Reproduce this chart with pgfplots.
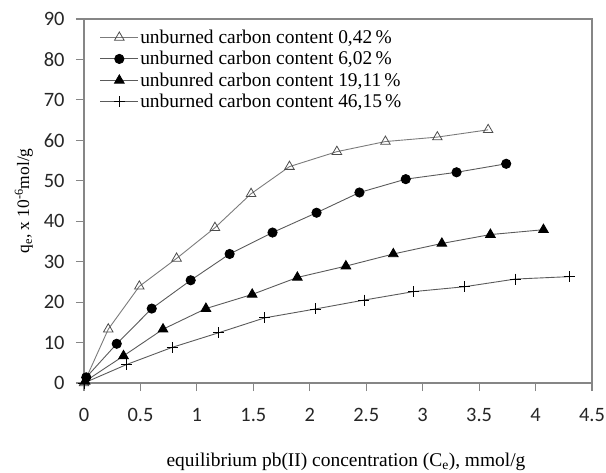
\documentclass[border=0pt]{standalone}
\usepackage{fontspec}
\setmainfont{Liberation Serif}
\newfontfamily\tickfont{Carlito}
\usepackage{pgfplots}
\pgfplotsset{compat=1.18}
\definecolor{framegray}{HTML}{868686}
\definecolor{linegray}{HTML}{5A5A5A}

\begin{document}
\begin{tikzpicture}
\begin{axis}[
  scale only axis,
  width=508bp, height=364bp,
  xmin=0, xmax=4.5, ymin=0, ymax=90,
  xtick={0,0.5,...,4.5}, ytick={0,10,...,90},
  /pgf/number format/assume math mode=true,
  ticklabel style={font=\tickfont\fontsize{20.5}{20.5}\selectfont, text=black!85},
  xticklabel style={yshift=-14bp},
  yticklabel style={xshift=-8bp},
  tick align=outside,
  major tick length=8bp,
  axis line style={draw=framegray, line width=1.1pt},
  tick style={draw=framegray, line width=1.1pt},
  xtick pos=bottom, ytick pos=left,
  xlabel={equilibrium pb(II) concentration (C$_{\mathrm{e}}$), mmol/g},
  ylabel={q$_{\mathrm{e}}$, x 10\textsuperscript{-6}mol/g},
  xlabel style={font=\fontsize{19.5}{19.5}\selectfont, at={(rel axis cs:0.5,0)}, yshift=-66bp, xshift=8bp},
  ylabel style={font=\fontsize{17.5}{17.5}\selectfont, yshift=4bp},
  legend cell align=left,
  legend style={draw=none, fill=none, at={(rel axis cs:0.025,0.98)}, anchor=north west,
    font=\fontsize{19.5}{19.5}\selectfont, row sep=3.5bp,
    nodes={inner sep=1.5bp}},
  legend image code/.code={%
    \draw[#1, mark repeat=2, mark phase=2] plot coordinates {(0bp,0bp) (19bp,0bp) (38bp,0bp)};},
  every axis plot/.append style={line width=0.9pt},
  clip=false,
]
\addplot[color=linegray!80, mark=triangle, mark size=5.5bp, mark options={draw=black!70, fill=white, line width=0.8pt}] coordinates {
  (0,0) (0.215,13.3) (0.49,23.9) (0.82,30.8) (1.16,38.4) (1.48,46.8)
  (1.82,53.5) (2.24,57.2) (2.67,59.7) (3.13,60.8) (3.58,62.6)};
\addlegendentry{unburned carbon content 0,42\,\%}
\addplot[color=linegray, mark=*, mark size=4.6bp, mark options={fill=black, draw=black}] coordinates {
  (0.02,1.4) (0.29,9.7) (0.60,18.4) (0.945,25.4) (1.29,31.9) (1.67,37.2)
  (2.06,42.1) (2.44,47.1) (2.85,50.4) (3.30,52.1) (3.74,54.2)};
\addlegendentry{unburned carbon content 6,02\,\%}
\addplot[color=linegray, mark=triangle*, mark size=5.5bp, mark options={fill=black, draw=black}] coordinates {
  (0.01,0.4) (0.35,6.7) (0.70,13.3) (1.08,18.4) (1.49,21.9) (1.89,26.1)
  (2.32,28.9) (2.74,31.9) (3.17,34.5) (3.60,36.7) (4.07,37.9)};
\addlegendentry{unbunred carbon content 19,11\,\%}
\addplot[color=linegray, mark=+, mark size=5.5bp, mark options={draw=black, line width=0.8pt}] coordinates {
  (0,0) (0.38,4.6) (0.78,8.8) (1.19,12.4) (1.60,16.1) (2.05,18.3)
  (2.48,20.5) (2.92,22.6) (3.37,23.8) (3.82,25.7) (4.30,26.3)};
\addlegendentry{unburned carbon content 46,15\,\%}
\path (rel axis cs:0,0) ++(-84bp,-90bp) coordinate (bl);
\path (rel axis cs:1,1) ++(14bp,19bp) coordinate (tr);
\end{axis}
\pgfresetboundingbox
\useasboundingbox (bl) rectangle (tr);
\end{tikzpicture}
\end{document}
